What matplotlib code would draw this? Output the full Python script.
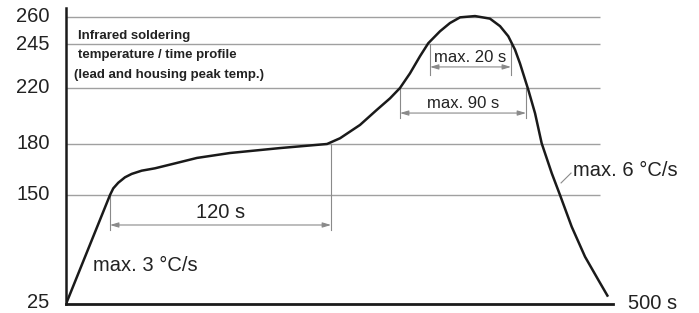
import numpy as np
import matplotlib
matplotlib.use("Agg")
import matplotlib.pyplot as plt

plt.rcParams['font.family'] = ['Liberation Sans', 'DejaVu Sans']

# Profile (time in s, temperature in °C)
time_s = [0, 40.6, 43.6, 48.2, 54.4, 60.6, 69.8, 82.1, 100.6, 120.8, 151.3,
          197.4, 240.8, 252.8, 271.2, 286.6, 298.9, 308.1, 317.3, 326.6, 334.2,
          345.0, 354.2, 363.5, 377.3, 391.1, 400.4, 408.0, 414.2, 418.8, 426.5,
          432.7, 438.8, 448.1, 455.7, 466.5, 478.8, 491.1, 500]
temp_c = [25, 150, 153.9, 157.2, 160.4, 162.4, 164.3, 165.7, 168.6, 171.8, 174.7,
          177.6, 180, 184.1, 193.6, 204.3, 212.6, 220, 228.4, 238.3, 245.7,
          252.2, 256.7, 259.8, 260.5, 259.1, 255.0, 249.5, 242.0, 234.1, 218.6,
          201.9, 180.5, 162.8, 150, 113.6, 79.2, 52.5, 33.4]

tick_temps = [25, 150, 180, 220, 245, 260]
grid_temps = [150, 180, 220, 245, 260]

# Schematic (non-linear) temperature axis of the original drawing
scale_t = [-100, 25, 150, 180, 220, 245, 260, 400]
scale_h = [-109, 0, 109, 160, 216, 259.5, 287, 543.7]


def fwd(t):
    return np.interp(t, scale_t, scale_h)


def inv(h):
    return np.interp(h, scale_h, scale_t)


fig = plt.figure(figsize=(6.99, 3.13), dpi=100)
ax = fig.add_axes([66 / 699, 9 / 313, (613 - 66) / 699, 296 / 313])
ax.set_yscale('function', functions=(fwd, inv))
ax.set_xlim(0, 504.6)
ax.set_ylim(25, 264.9)

grid_col = '#a0a0a0'
dim_col = '#8a8a8a'
txt_col = '#222222'

ax.hlines(grid_temps, 0, 492.6, color=grid_col, lw=1.0, zorder=1)
ax.plot(time_s, temp_c, color='#1a1a1a', lw=1.8, zorder=3,
        solid_joinstyle='round', solid_capstyle='butt')

for side in ['top', 'right']:
    ax.spines[side].set_visible(False)
ax.spines['left'].set_linewidth(1.8)
ax.spines['bottom'].set_linewidth(2.0)
ax.spines['left'].set_color('#1a1a1a')
ax.spines['bottom'].set_color('#1a1a1a')

ax.set_xticks([])
ax.set_yticks(tick_temps)
ax.set_yticklabels([])
ax.tick_params(axis='y', length=0)

# temperature labels, right-aligned left of the axis
for t in tick_temps:
    y = 27.0 if t == 25 else t
    ax.text(-0.03, y, str(t), transform=ax.get_yaxis_transform(),
            ha='right', va='center', fontsize=14.5, color=txt_col)


def dimension(x0, x1, top0, top1, bottom, y_arrow, label, y_text, size):
    ax.plot([x0, x0], [top0, bottom], color=dim_col, lw=0.8, zorder=2)
    ax.plot([x1, x1], [top1, bottom], color=dim_col, lw=0.8, zorder=2)
    ax.annotate('', xy=(x1, y_arrow), xytext=(x0, y_arrow),
                arrowprops=dict(arrowstyle='<|-|>,head_length=0.5,head_width=0.15',
                                color=dim_col, lw=0.8, shrinkA=0, shrinkB=0))
    ax.text((x0 + x1) / 2, y_text, label, ha='center', va='center',
            fontsize=size, color=txt_col)


dimension(40.6, 244.5, 150, 180, 109.9, 115.6, '120 s', 129.4, 14.5)
dimension(308.1, 424.4, 220, 220, 198.6, 202.1, 'max. 90 s', 208.6, 12)
dimension(335.8, 410.5, 245, 245, 227.5, 232.1, 'max. 20 s', 237.5, 12)

ax.text(24.9, 69.7, 'max. 3 °C/s', ha='left', va='center', fontsize=14.5, color=txt_col)
ax.text(467.7, 164.7, 'max. 6 °C/s', ha='left', va='center', fontsize=14.5,
        color=txt_col, clip_on=False)
ax.plot([456.7, 465.9], [157.1, 162.9], color=dim_col, lw=0.8)
ax.text(518.5, 26, '500 s', ha='left', va='center', fontsize=14.5,
        color=txt_col, clip_on=False)

ax.text(11.1, 249.6, 'Infrared soldering', ha='left', va='center',
        fontsize=9.5, fontweight='bold', color=txt_col)
ax.text(11.1, 239.0, 'temperature / time profile', ha='left', va='center',
        fontsize=9.5, fontweight='bold', color=txt_col)
ax.text(7.4, 227.5, '(lead and housing peak temp.)', ha='left', va='center',
        fontsize=9.5, fontweight='bold', color=txt_col)

fig.savefig('out.png', dpi=100)
